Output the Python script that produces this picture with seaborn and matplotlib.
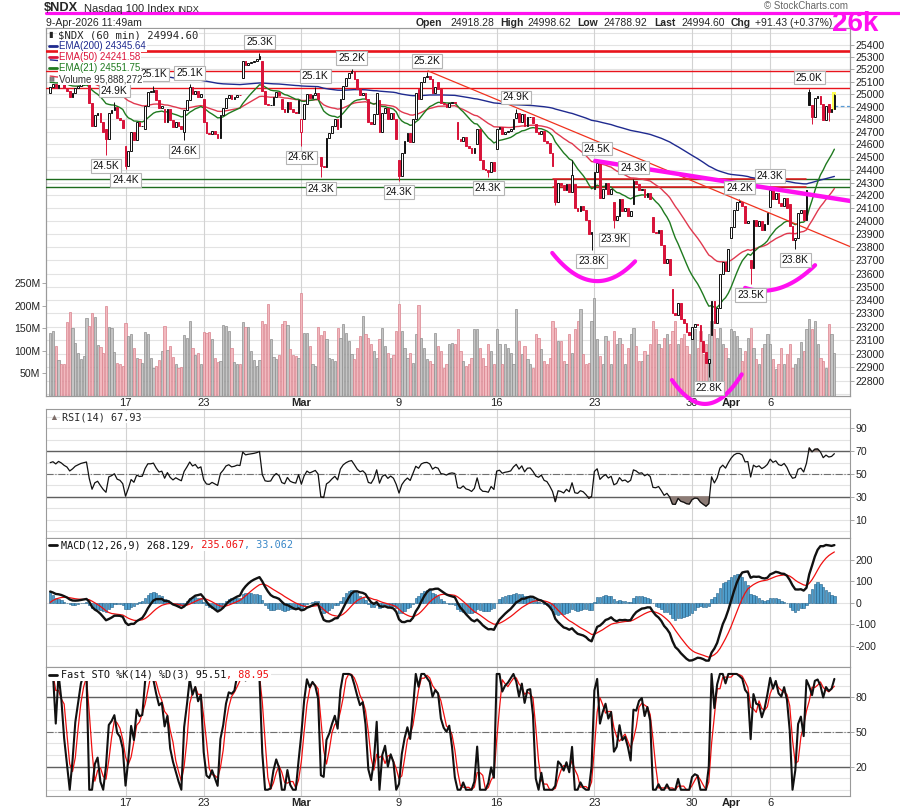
import numpy as np
import pandas as pd
import matplotlib
matplotlib.use("Agg")
import matplotlib.pyplot as plt
import seaborn as sns
from matplotlib.lines import Line2D
from matplotlib.patches import Rectangle
from matplotlib.ticker import FixedLocator, NullLocator, FixedFormatter

sns.set_theme(style="white")
plt.rcParams['font.family'] = ['Liberation Sans', 'DejaVu Sans']

# ---------------- data ----------------
day_names = ["Feb 10", "Feb 11", "Feb 12", "Feb 13", "Feb 17", "Feb 18", "Feb 19", "Feb 20",
             "Feb 23", "Feb 24", "Feb 25", "Feb 26", "Feb 27",
             "Mar 2", "Mar 3", "Mar 4", "Mar 5", "Mar 6", "Mar 9", "Mar 10", "Mar 11", "Mar 12", "Mar 13",
             "Mar 16", "Mar 17", "Mar 18", "Mar 19", "Mar 20", "Mar 23", "Mar 24", "Mar 25", "Mar 26", "Mar 27",
             "Mar 30", "Mar 31", "Apr 1", "Apr 2", "Apr 6", "Apr 7", "Apr 8", "Apr 9"]
bars_per_day = [6] + [7] * 39 + [3]

day_opens = [25010, 25040, 25090, 24725, 24590, 24720, 24880, 24700,
             24960, 24830, 25130, 25270, 24960,
             24700, 24500, 24740, 25040, 24950, 24480, 25040, 25100, 24780, 24600,
             24560, 24810, 24760, 24330, 24290, 24250, 24150, 24130, 24030, 23480,
             23110, 23140, 23870, 23700, 24110, 24130, 25020, 24918.28]

closes = [
    25060, 25080, 25050, 25100, 25080, 25050,                 # Feb 10
    25030, 24980, 25010, 25050, 25070, 25090, 25100,          # Feb 11
    25110, 24930, 24750, 24830, 24850, 24775, 24700,          # Feb 12
    24640, 24850, 24870, 24900, 24810, 24790, 24730,          # Feb 13
    24430, 24545, 24700, 24635, 24775, 24745, 24750,          # Feb 17
    24905, 25020, 25020, 25035, 24955, 24890, 24905,          # Feb 18
    24780, 24880, 24790, 24740, 24775, 24745, 24720,          # Feb 19
    24870, 24955, 25060, 25000, 25030, 24975, 25000,          # Feb 20
    24780, 24690, 24680, 24710, 24680, 24650, 24830,          # Feb 23
    24890, 24970, 24995, 24965, 24975, 24995, 24990,          # Feb 24
    25270, 25235, 25250, 25260, 25270, 25285, 25310,          # Feb 25
    25030, 24920, 24910, 24915, 24980, 25020, 24990,          # Feb 26
    24880, 24860, 24940, 24880, 24860, 24850, 24955,          # Feb 27
    24800, 24920, 25000, 24970, 24990, 25010, 24960,          # Mar 2
    24430, 24420, 24650, 24690, 24750, 24800, 24720,          # Mar 3
    24960, 25070, 25130, 25170, 25190, 25120, 25040,          # Mar 4
    24990, 25010, 24960, 24780, 24760, 24840, 25010,          # Mar 5
    24700, 24850, 24890, 24800, 24850, 24800, 24640,          # Mar 6
    24350, 24530, 24625, 24690, 24620, 24800, 25010,          # Mar 9
    24960, 25100, 25140, 25150, 25120, 25010, 25060,          # Mar 10
    25040, 24930, 24920, 24900, 24930, 24940, 24930,          # Mar 11
    24640, 24625, 24660, 24590, 24570, 24530, 24570,          # Mar 12
    24720, 24480, 24405, 24400, 24380, 24460, 24390,          # Mar 13
    24720, 24740, 24680, 24700, 24710, 24725, 24800,          # Mar 16
    24850, 24780, 24840, 24750, 24815, 24820, 24770,          # Mar 17
    24700, 24680, 24710, 24630, 24610, 24535, 24430,          # Mar 18
    24150, 24300, 24280, 24240, 24290, 24230, 24360,          # Mar 19
    24100, 24080, 24120, 24090, 24010, 23900, 23920,          # Mar 20
    24380, 24450, 24180, 24250, 24300, 24210, 24250,          # Mar 23
    24010, 24040, 24170, 24080, 24100, 24040, 24080,          # Mar 24
    24315, 24290, 24240, 24250, 24190, 24220, 24175,          # Mar 25
    23920, 23910, 23930, 23820, 23680, 23710, 23590,          # Mar 26
    23300, 23290, 23380, 23260, 23225, 23160, 23140,          # Mar 27
    23200, 23220, 23210, 23090, 23010, 22930, 22960,          # Mar 30
    23390, 23225, 23340, 23600, 23690, 23620, 23790,          # Mar 31
    23955, 24085, 24150, 24150, 24120, 23990, 24000,          # Apr 1
    23640, 24010, 23960, 24000, 23930, 23980, 24060,          # Apr 2
    24240, 24170, 24220, 24140, 24120, 24180, 24100,          # Apr 6
    23960, 23855, 23870, 24060, 24090, 24010, 24240,          # Apr 7
    24910, 24815, 24970, 24985, 24920, 24790, 24903.17,       # Apr 8
    24860, 24885, 24994.60,                                   # Apr 9
]

volumes_m = [
    139, 145, 111, 80, 70, 70,
    164, 187, 150, 117, 95, 82, 88,
    172, 155, 185, 176, 112, 108, 95,
    200, 152, 150, 98, 73, 70, 66,
    161, 134, 137, 106, 84, 81, 73,
    143, 137, 84, 62, 66, 79, 100,
    156, 101, 110, 87, 70, 62, 64,
    136, 128, 167, 106, 92, 95, 70,
    143, 140, 143, 127, 85, 75, 78,
    157, 155, 145, 106, 76, 70, 72,
    163, 152, 152, 100, 80, 67, 80,
    167, 160, 204, 127, 87, 83, 90,
    160, 167, 157, 104, 92, 88, 85,
    228, 140, 140, 110, 70, 67, 153,
    135, 144, 126, 85, 82, 78, 151,
    129, 159, 140, 122, 93, 82, 107,
    133, 177, 137, 129, 115, 100, 85,
    126, 151, 110, 95, 85, 90, 144,
    203, 144, 107, 85, 96, 74, 137,
    201, 129, 107, 82, 78, 70, 140,
    111, 100, 63, 70, 115, 118, 115,
    148, 100, 78, 67, 70, 85, 148,
    148, 107, 85, 67, 115, 100, 70,
    148, 115, 70, 115, 107, 96, 70,
    192, 122, 93, 111, 82, 70, 63,
    137, 129, 104, 78, 70, 85, 166,
    151, 122, 122, 78, 70, 137, 96,
    148, 166, 192, 93, 70, 74, 166,
    217, 126, 89, 70, 133, 122, 70,
    144, 115, 129, 115, 70, 107, 137,
    151, 111, 78, 78, 100, 90, 115,
    166, 148, 115, 107, 129, 137, 115,
    144, 166, 115, 129, 137, 111, 93,
    144, 148, 107, 144, 93, 115, 137,
    166, 148, 129, 151, 115, 107, 85,
    148, 144, 133, 107, 78, 100, 129,
    151, 107, 82, 70, 107, 115, 137,
    115, 82, 59, 70, 107, 70, 93,
    115, 63, 70, 85, 120, 100, 148,
    170, 148, 166, 115, 85, 78, 63,
    160, 137, 95.888272,
]

# labelled swing highs / lows (bar index, price)
peak_idx = [23, 37, 50, 75, 95, 108, 135, 167, 196, 209, 247, 258, 272]
peak_val = [24940, 25070, 25080, 25330, 25060, 25200, 25180, 24885, 24480, 24330, 24175, 24265, 25045]
trough_idx = [20, 27, 48, 90, 97, 125, 157, 194, 202, 236, 251, 267]
trough_val = [24520, 24405, 24635, 24585, 24340, 24315, 24345, 23780, 23945, 22830, 23520, 23790]
# other visible wicks
wick_hi_idx = [187, 281]
wick_hi_val = [24480, 24998.62]
wick_lo_idx = [181, 273, 279]
wick_lo_val = [24125, 24765, 24788.92]

tick_days = ["Feb 17", "Feb 23", "Mar 2", "Mar 9", "Mar 16", "Mar 23", "Mar 30", "Apr 1", "Apr 6"]
tick_text = ["17", "23", "Mar", "9", "16", "23", "30", "Apr", "6"]

# annotation levels / drawings (bar index, price)
red_levels = [25188, 25053]
thick_red_level = 25353
support_levels = [24326, 24264]
trend_red = ([135.4, 288.0], [25188, 23793])
trend_mag = ([195.3, 292.0], [24470, 24139])
arc1 = ([179.9, 188.1, 197.1, 204.2, 209.6], [23749, 23612, 23538, 23582, 23703])
arc2 = ([222.8, 229.3, 236.5, 242.9, 247.8], [22794, 22689, 22640, 22682, 22867])
arc3 = ([249.0, 258.0, 267.7, 274.1], [23491, 23476, 23551, 23665])

# indicator seeds (values carried in from before the visible window)
ema_seeds = {200: 25280, 50: 25150, 21: 25100}
macd_seeds = (25095, 25036, -11)
rsi_seeds = (45.0, 30.0)

# ---------------- derived series ----------------
c = np.array(closes, float)
n = len(c)
x = np.arange(n)
day_start = np.concatenate([[0], np.cumsum(bars_per_day)[:-1]])
o = np.empty(n)
o[1:] = c[:-1]
o[day_start] = day_opens
hi = np.maximum(o, c)
lo = np.minimum(o, c)
for i, v in zip(peak_idx + wick_hi_idx, peak_val + wick_hi_val):
    hi[i] = max(hi[i], v)
for i, v in zip(trough_idx + wick_lo_idx, trough_val + wick_lo_val):
    lo[i] = min(lo[i], v)
prev_c = np.r_[o[0], c[:-1]]
up = c >= prev_c


def ema(series, span, seed):
    a = 2.0 / (span + 1)
    out = np.empty(len(series))
    p = seed
    for k, v in enumerate(series):
        p = p + a * (v - p)
        out[k] = p
    return out


ema200 = ema(c, 200, ema_seeds[200])
ema50 = ema(c, 50, ema_seeds[50])
ema21 = ema(c, 21, ema_seeds[21])

macd = ema(c, 12, macd_seeds[0]) - ema(c, 26, macd_seeds[1])
signal = ema(macd, 9, macd_seeds[2])
hist = macd - signal

d = np.diff(c, prepend=c[0])
ag, al = rsi_seeds
rsi = np.empty(n)
for t in range(n):
    if t > 0:
        ag = (ag * 13 + max(d[t], 0)) / 14
        al = (al * 13 + max(-d[t], 0)) / 14
    rsi[t] = 100 - 100 / (1 + ag / al)

hh = pd.Series(hi).rolling(14, min_periods=1).max().values
ll = pd.Series(lo).rolling(14, min_periods=1).min().values
k_line = 100 * (c - ll) / np.maximum(hh - ll, 1e-9)
d_line = pd.Series(k_line).rolling(3, min_periods=1).mean().values

df = pd.DataFrame(dict(x=x, close=c, ema200=ema200, ema50=ema50, ema21=ema21,
                       rsi=rsi, macd=macd, signal=signal, k=k_line, d=d_line))

# ---------------- layout ----------------
W, H = 900, 811
fig = plt.figure(figsize=(9, 8.11), dpi=100)
fig.patch.set_facecolor("white")


def rect(x0, y0, x1, y1):
    return [x0 / W, 1 - y1 / H, (x1 - x0) / W, (y1 - y0) / H]


def ftext(px, py, s, **kw):
    return fig.text(px / W, 1 - py / H, s, **kw)


def white_strip(x0, y0, x1, y1):
    fig.add_artist(Rectangle((x0 / W, 1 - y1 / H), (x1 - x0) / W, (y1 - y0) / H,
                             transform=fig.transFigure, facecolor="white", edgecolor="none", zorder=19))


ax_vol = fig.add_axes(rect(46, 28, 850, 396))
ax = ax_vol.twinx()
ax_rsi = fig.add_axes(rect(46, 409, 850, 538), sharex=ax_vol)
ax_macd = fig.add_axes(rect(46, 538, 850, 667), sharex=ax_vol)
ax_sto = fig.add_axes(rect(46, 667, 850, 796), sharex=ax_vol)

XL = (-1.5, 286.6)
PMIN, PMAX = 22689, 25538
VMAX = 816e6
tick_pos = [day_start[day_names.index(dn)] for dn in tick_days]

SPINE = "#9a9a9a"
GRID = "#e3e3e3"
VGRID = "#d2d2d2"
RED = "#d8143a"
TICKFS = 7.6
MONO_W = 7.3 * 0.602 * 100 / 72  # character advance of the mono label font, px

for a in (ax_vol, ax, ax_rsi, ax_macd, ax_sto):
    for s in a.spines.values():
        s.set_color(SPINE)
        s.set_linewidth(0.8)
    a.set_xlim(*XL)

# ---- volume (behind) ----
vol = np.array(volumes_m) * 1e6
ax_vol.set_ylim(0, VMAX)
ax_vol.bar(x, vol, width=0.8, color=np.where(up, "#c4c4c4", "#f2b9bf"),
           edgecolor=np.where(up, "#8e8e8e", "#d9828d"), linewidth=0.5, zorder=2)
for p in range(22700, 25600, 100):
    f = (np.log(p) - np.log(PMIN)) / (np.log(PMAX) - np.log(PMIN))
    if 0 < f < 1:
        ax_vol.axhline(f * VMAX, color=GRID, lw=0.8, zorder=0)
for tp in tick_pos:
    ax_vol.axvline(tp, color=VGRID, lw=0.8, zorder=0)
ax_vol.yaxis.tick_left()
ax_vol.set_yticks([50e6, 100e6, 150e6, 200e6, 250e6])
ax_vol.set_yticklabels(["50M", "100M", "150M", "200M", "250M"])
ax_vol.tick_params(axis="y", left=True, length=3, width=0.6, color=SPINE, pad=1,
                   labelsize=TICKFS, labelcolor="#222222")
ax_vol.set_xticks(tick_pos)
ax_vol.set_xticklabels(tick_text)
ax_vol.tick_params(axis="x", length=0, pad=1.5, labelsize=TICKFS + 0.4, labelcolor="#222222")
for lab in ax_vol.get_xticklabels():
    if lab.get_text() in ("Mar", "Apr"):
        lab.set_fontweight("bold")

# ---- price ----
ax.set_yscale("log")
ax.set_ylim(PMIN, PMAX)
ax.yaxis.set_major_locator(FixedLocator(list(range(22800, 25401, 100))))
ax.yaxis.set_major_formatter(FixedFormatter([str(v) for v in range(22800, 25401, 100)]))
ax.yaxis.set_minor_locator(NullLocator())
ax.tick_params(axis="y", right=True, length=3, width=0.6, color=SPINE, pad=1,
               labelsize=TICKFS, labelcolor="#222222")
ax.tick_params(axis="x", bottom=False, labelbottom=False)

ax.axhline(thick_red_level, color="#e8141c", lw=1.9, zorder=3)
for lv in red_levels:
    ax.axhline(lv, color="#e8141c", lw=1.0, zorder=3)
for lv in support_levels:
    ax.axhline(lv, color="#1d6b1d", lw=1.0, zorder=3)
    ax.plot([180, 271], [lv, lv], color="#e8141c", lw=1.1, zorder=3.1)

sns.lineplot(data=df, x="x", y="ema200", ax=ax, color="#1f2a8f", lw=1.0, zorder=4, legend=False)
sns.lineplot(data=df, x="x", y="ema50", ax=ax, color="#e0394f", lw=1.0, zorder=4, legend=False)
sns.lineplot(data=df, x="x", y="ema21", ax=ax, color="#1f7a1f", lw=1.0, zorder=4, legend=False)

edge = np.where(up, "#111111", RED)
face = np.where(c >= o, "white", edge)
ax.vlines(x, lo, hi, colors=edge, lw=0.7, zorder=5)
body_lo = np.minimum(o, c)
body_h = np.maximum(np.abs(c - o), 3)
ax.add_patch(Rectangle((x[-1] - 0.75, 24870), 1.5, 150, facecolor="#ffff55", edgecolor="none", zorder=4.5))
ax.bar(x, body_h, bottom=body_lo, width=0.62, color=face, edgecolor=edge, linewidth=0.7, zorder=6)
ax.plot([x[-1], XL[1]], [closes[-1] - 91.43] * 2, color="#5a9bd5", lw=0.9, ls=(0, (3, 2)), zorder=5)

ax.plot(*trend_red, color="#f0321e", lw=0.9, zorder=5)
ax.plot(*trend_mag, color="#ff10f0", lw=3.2, zorder=7, solid_capstyle="round")
for arc in (arc1, arc2, arc3):
    ax_px, ax_py = np.array(arc[0]), np.log(np.array(arc[1]))
    coef = np.polyfit(ax_px, ax_py, 2)
    xs = np.linspace(ax_px[0], ax_px[-1], 60)
    ax.plot(xs, np.exp(np.polyval(coef, xs)), color="#ff10f0", lw=3.0, zorder=7,
            solid_capstyle="round", clip_on=False)

lab_box = dict(boxstyle="square,pad=0.18", fc="white", ec="#b4b4b4", lw=0.8)
for i, v in zip(peak_idx, peak_val):
    ax.annotate(f"{v / 1000:.1f}K", xy=(i, v), xytext=(0, 8), textcoords="offset points",
                ha="center", va="center", fontsize=7.4, color="#111111", bbox=lab_box, zorder=9)
for i, v in zip(trough_idx, trough_val):
    ax.annotate(f"{v / 1000:.1f}K", xy=(i, v), xytext=(0, -8), textcoords="offset points",
                ha="center", va="center", fontsize=7.4, color="#111111", bbox=lab_box, zorder=9)

# legend block
wbox = dict(facecolor="white", edgecolor="none", pad=0.6)
ftext(58, 35, "$NDX (60 min) 24994.60", fontsize=7.7, family="DejaVu Sans Mono", va="center", bbox=wbox, zorder=20)
ftext(48.5, 35, "▮", fontsize=6, color="#222222", va="center", zorder=21)
leg_items = [("EMA(200) 24345.64", "#1f2a8f", 45.7), ("EMA(50) 24241.58", "#dc143c", 57.3),
             ("EMA(21) 24551.75", "#1f7a1f", 68.3)]
for s, col, yy in leg_items:
    ftext(59, yy, s, fontsize=7.0, color=col, va="center", bbox=wbox, zorder=20)
    fig.add_artist(Line2D([49 / W, 57 / W], [1 - yy / H] * 2, color=col, lw=2.0, zorder=21))
ftext(59, 79, "Volume 95,888,272", fontsize=7.0, color="#333333", va="center", bbox=wbox, zorder=20)
ftext(48.5, 79, "▮▮", fontsize=4.5, color="#777777", va="center", zorder=21)

# ---- RSI ----
ax_rsi.set_ylim(-6, 107)
for g in range(0, 101, 10):
    ax_rsi.axhline(g, color=GRID, lw=0.8, zorder=0)
for tp in tick_pos:
    ax_rsi.axvline(tp, color=VGRID, lw=0.8, zorder=0)
ax_rsi.axhline(70, color="#606060", lw=1.0, zorder=1)
ax_rsi.axhline(30, color="#606060", lw=1.0, zorder=1)
ax_rsi.axhline(50, color="#707070", lw=0.8, ls="-.", zorder=1)
ax_rsi.fill_between(x, rsi, 30, where=rsi < 30, interpolate=True, color="#8c7b75", zorder=2)
ax_rsi.fill_between(x, rsi, 70, where=rsi > 70, interpolate=True, color="#8c7b75", zorder=2)
sns.lineplot(data=df, x="x", y="rsi", ax=ax_rsi, color="#111111", lw=0.9, zorder=3, legend=False)
ax_rsi.yaxis.tick_right()
ax_rsi.set_yticks([10, 30, 50, 70, 90])
ax_rsi.tick_params(axis="y", right=True, length=3, width=0.6, color=SPINE, pad=1,
                   labelsize=TICKFS, labelcolor="#222222")
ax_rsi.tick_params(axis="x", length=0, labelbottom=False)
white_strip(60, 411, 62 + 13 * MONO_W + 2, 423)
ftext(62, 417, "RSI(14) 67.93", fontsize=7.3, family="DejaVu Sans Mono", va="center", zorder=20)
ftext(49, 417, "▲", fontsize=6.5, color="#7d6d68", va="center", zorder=20)

# ---- MACD ----
ax_macd.set_ylim(-298, 300)
for g in range(-300, 301, 100):
    ax_macd.axhline(g, color=GRID, lw=0.8, zorder=0)
for tp in tick_pos:
    ax_macd.axvline(tp, color=VGRID, lw=0.8, zorder=0)
ax_macd.bar(x, hist, width=0.85, color="#4d9dcc", edgecolor="#1f5d85", linewidth=0.4, zorder=2)
sns.lineplot(data=df, x="x", y="signal", ax=ax_macd, color="#f01010", lw=0.9, zorder=3, legend=False)
sns.lineplot(data=df, x="x", y="macd", ax=ax_macd, color="#111111", lw=1.7, zorder=4, legend=False)
ax_macd.yaxis.tick_right()
ax_macd.set_yticks([-200, -100, 0, 100, 200])
ax_macd.set_yticklabels(["-200", "-100", "0", "100", "200"])
ax_macd.tick_params(axis="y", right=True, length=3, width=0.6, color=SPINE, pad=1,
                    labelsize=TICKFS, labelcolor="#222222")
ax_macd.tick_params(axis="x", length=0, labelbottom=False)
macd_parts = [("MACD(12,26,9) 268.129", "#111111"), (", 235.067", "#ee1111"), (", 33.062", "#3a88c8")]
white_strip(47, 539, 61 + sum(len(s) for s, _ in macd_parts) * MONO_W + 2, 551)
fig.add_artist(Line2D([49 / W, 57 / W], [1 - 545 / H] * 2, color="#111111", lw=2.0, zorder=21))
cx = 61
for s, col in macd_parts:
    ftext(cx, 545, s, fontsize=7.3, family="DejaVu Sans Mono", color=col, va="center", zorder=20)
    cx += len(s) * MONO_W

# ---- Fast STO ----
ax_sto.set_ylim(-5.4, 106)
for g in range(0, 101, 10):
    ax_sto.axhline(g, color=GRID, lw=0.8, zorder=0)
for tp in tick_pos:
    ax_sto.axvline(tp, color=VGRID, lw=0.8, zorder=0)
ax_sto.axhline(80, color="#606060", lw=1.0, zorder=1)
ax_sto.axhline(20, color="#606060", lw=1.0, zorder=1)
ax_sto.axhline(50, color="#707070", lw=0.8, ls="-.", zorder=1)
sns.lineplot(data=df, x="x", y="d", ax=ax_sto, color="#f01010", lw=0.9, zorder=3, legend=False)
sns.lineplot(data=df, x="x", y="k", ax=ax_sto, color="#111111", lw=1.5, zorder=4, legend=False)
ax_sto.yaxis.tick_right()
ax_sto.set_yticks([20, 50, 80])
ax_sto.tick_params(axis="y", right=True, length=3, width=0.6, color=SPINE, pad=1,
                   labelsize=TICKFS, labelcolor="#222222")
ax_sto.tick_params(axis="x", length=0, pad=1.5, labelbottom=True, labelsize=TICKFS + 0.4,
                   labelcolor="#222222")
for lab in ax_sto.get_xticklabels():
    if lab.get_text() in ("Mar", "Apr"):
        lab.set_fontweight("bold")
sto_parts = [("Fast STO %K(14) %D(3) 95.51", "#111111"), (", 88.95", "#ee1111")]
white_strip(47, 669, 61 + sum(len(s) for s, _ in sto_parts) * MONO_W + 2, 681)
fig.add_artist(Line2D([49 / W, 57 / W], [1 - 674.7 / H] * 2, color="#111111", lw=2.0, zorder=21))
cx = 61
for s, col in sto_parts:
    ftext(cx, 674.7, s, fontsize=7.3, family="DejaVu Sans Mono", color=col, va="center", zorder=20)
    cx += len(s) * MONO_W

for a in (ax_vol, ax, ax_rsi, ax_macd, ax_sto):
    a.set_xlabel("")
    a.set_ylabel("")

# ---- header ----
ftext(44, 8, "$NDX", fontsize=9.2, fontweight="bold", va="center")
ftext(84, 9, "Nasdaq 100 Index", fontsize=8.0, va="center")
ftext(177, 9.5, "INDX", fontsize=6.6, va="center")
ftext(848, 6, "© StockCharts.com", fontsize=7.0, color="#666666", va="center", ha="right")
fig.add_artist(Line2D([46 / W, 1.0], [1 - 13.3 / H] * 2, color="#ff10f0", lw=2.3))
ftext(46, 23, "9-Apr-2026 11:49am", fontsize=7.6, va="center")
hdr = [(416, "Open", True), (450, "24918.28", False), (500, "High", True), (527, "24998.62", False),
       (577, "Low", True), (603, "24788.92", False), (654, "Last", True), (681, "24994.60", False),
       (731, "Chg", True), (755, "+91.43 (+0.37%)", False)]
for px, s, b in hdr:
    ftext(px, 23, s, fontsize=7.5, fontweight="bold" if b else "normal", va="center")
ftext(855, 24, "26k", fontsize=20, fontweight="bold", color="#ff10f0", va="center", ha="center", zorder=30)

fig.savefig("out.png", dpi=100, facecolor="white")
